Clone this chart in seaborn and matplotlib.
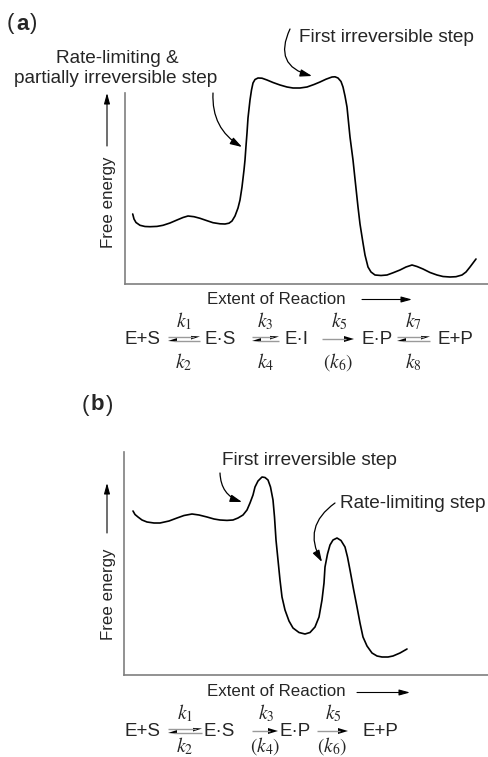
import numpy as np
import pandas as pd
import matplotlib
matplotlib.use("Agg")
import matplotlib.pyplot as plt
import seaborn as sns
from matplotlib.patches import Polygon

# ---------------- data (schematic free-energy profiles) ----------------
a_extent = [7.7, 9, 11, 15, 20, 25, 32, 38, 45, 52, 58, 63, 69, 75, 82, 88, 95, 100, 104, 107,
            110, 113, 115, 117, 119, 120, 121, 122, 123, 125, 126.5, 128, 130, 133, 137, 142,
            148, 155, 162, 168, 175, 182, 189, 195, 201, 207, 210, 213, 216, 218, 220, 222,
            223, 225, 228, 230, 233, 235, 238, 240, 243, 246, 250, 256, 262, 268, 275, 281,
            287, 292, 298, 305, 312, 318, 325, 331, 337, 341, 345, 348, 351]
a_energy = [70, 65, 61.5, 58.7, 57.5, 57.3, 57.6, 58.7, 61, 64, 66.5, 68, 67.3, 65.7, 63.3, 61.3,
            60.2, 60, 60.8, 63, 68, 76, 84, 97, 114, 124, 138, 151, 166, 184, 194, 201, 204.5,
            206, 205.8, 204, 201.5, 199, 197, 196, 196, 197, 199.5, 202, 204.8, 207, 207.2, 206,
            202.5, 197, 188, 177, 167, 147, 124, 105, 77, 60, 41, 29, 17, 12, 9, 8.5, 9, 11.2,
            14, 17, 19, 17.5, 15, 11.5, 9, 7.5, 7, 7.3, 9, 12, 17, 21, 25]

b_extent = [9, 11, 14, 18, 23, 30, 36, 45, 53, 60, 68, 75, 83, 90, 96, 103, 109, 114, 119, 123,
            126, 129, 131, 134, 138, 141, 144, 146.5, 149, 150.5, 152, 154, 156, 158, 161, 165,
            169, 175, 181, 186, 191, 195, 198, 200, 201, 203.5, 206, 209, 213, 217, 221, 223.5,
            226, 229.5, 233, 236, 239, 243, 248, 253, 258, 264, 269, 276, 283]
b_energy = [164, 160.5, 158, 155, 153, 152, 152, 154, 157, 159.5, 161, 160, 158, 156, 155, 154.6,
            155, 157, 160, 165, 172, 180, 188, 194, 198, 197.5, 195, 188, 175, 158, 135, 115, 95,
            78, 65, 54, 47, 42.5, 41, 42.5, 48, 58, 75, 92, 108, 121, 130, 135, 137, 134.5, 128,
            118, 105, 86, 68, 52, 38, 29, 22, 19, 18, 18, 19, 22, 26]

panel_labels = ["a", "b"]
y_label = "Free energy"
x_label = "Extent of Reaction"
a_notes = ["First irreversible step", "Rate-limiting &\npartially irreversible step"]
b_notes = ["First irreversible step", "Rate-limiting step"]

# ---------------- figure ----------------
sns.set_style("white")
plt.rcParams['font.family'] = ['Liberation Sans', 'DejaVu Sans']
plt.rcParams['mathtext.fontset'] = 'stix'

W, H = 488, 757
fig = plt.figure(figsize=(W / 100, H / 100), dpi=100)

def axrect(left, right, top, bottom):
    return [left / W, 1 - bottom / H, (right - left) / W, (bottom - top) / H]

spine_col = "#7f7f7f"

# Panel (a) axes
axa = fig.add_axes(axrect(125, 488, 70, 284))
sns.lineplot(x=a_extent, y=a_energy, ax=axa, sort=False, estimator=None, color="black", lw=1.2)
axa.set_xlim(0, 363)
axa.set_ylim(0, 214)
axa.spines['left'].set_bounds(0, 191)

# Panel (b) axes
axb = fig.add_axes(axrect(124, 488, 452, 675))
sns.lineplot(x=b_extent, y=b_energy, ax=axb, sort=False, estimator=None, color="black", lw=1.2)
axb.set_xlim(0, 364)
axb.set_ylim(0, 223)

for ax in (axa, axb):
    for s in ("top", "right"):
        ax.spines[s].set_visible(False)
    for s in ("left", "bottom"):
        ax.spines[s].set_color(spine_col)
        ax.spines[s].set_linewidth(1.2)
    ax.set_xticks([])
    ax.set_yticks([])
    ax.set_xlabel("")
    ax.set_ylabel("")
    ax.patch.set_alpha(0)

# overlay in pixel coordinates for text/decoration
ov = fig.add_axes([0, 0, 1, 1])
ov.set_xlim(0, W)
ov.set_ylim(H, 0)
ov.axis("off")
ov.patch.set_alpha(0)

FS = 12.2    # axis labels
NS = 13.7    # annotation notes

# panel letters
for lab, (xp, xl, xr, yc) in zip(panel_labels, [(7, 16, 30, 24), (82, 91, 106, 405)]):
    ov.text(xp, yc, "(", fontsize=16, ha="left", va="center")
    ov.text(xl, yc, lab, fontsize=16, fontweight="bold", ha="left", va="center")
    ov.text(xr, yc, ")", fontsize=16, ha="left", va="center")

def arrow(x1, y1, x2, y2, rad=0.0, lw=0.9, hl=0.7, hw=0.22, ms=10, col="black"):
    ov.annotate("", xy=(x2, y2), xytext=(x1, y1),
                arrowprops=dict(arrowstyle=f"-|>,head_length={hl},head_width={hw}",
                                connectionstyle=f"arc3,rad={rad}", color=col, lw=lw,
                                mutation_scale=ms, shrinkA=0, shrinkB=0))

# axis labels
for yc, ytop, ybot, yx, xa0, xa1 in [(202, 93, 146, 299, 362, 412), (594, 483, 533, 692, 357, 410)]:
    ov.text(108, yc, y_label, rotation=90, fontsize=FS, ha="center", va="center")
    arrow(107, ybot, 107, ytop, lw=0.8, hl=0.8, hw=0.22, ms=8)
    ov.text(276, yx, x_label, fontsize=FS, ha="center", va="center")
    arrow(xa0, yx + 0.5, xa1, yx + 0.5, lw=0.8, hl=0.8, hw=0.22, ms=8)

# annotations (a)
ov.text(386, 42, a_notes[0], fontsize=NS, ha="center", va="baseline")
arrow(290, 29, 312, 76, rad=0.6)
l1, l2 = a_notes[1].split("\n")
ov.text(117, 63, l1, fontsize=NS, ha="center", va="baseline")
ov.text(116, 83, l2, fontsize=NS, ha="center", va="baseline")
arrow(213, 93, 242, 147, rad=0.3)

# annotations (b)
ov.text(309, 465, b_notes[0], fontsize=NS, ha="center", va="baseline")
arrow(220, 473, 242, 502, rad=0.35)
ov.text(413, 508, b_notes[1], fontsize=NS, ha="center", va="baseline")
arrow(335, 503, 322, 562, rad=0.45)

# ---------------- reaction schemes ----------------
EQ = 13.5
KS = 14
grey = "#9a9a9a"

def species(x, y, s):
    ov.text(x, y, s, fontsize=EQ, ha="center", va="center")

def equil(x1, x2, y, ktop, kbot, kt_y, kb_y):
    yt, yb = y - 2.5, y + 2.0
    ov.plot([x1, x2 - 6], [yt, yt], color=grey, lw=1.0, solid_capstyle="butt")
    ov.add_patch(Polygon([[x2, yt], [x2 - 9, yt - 0.6], [x2 - 9, yt + 3.0]], closed=True, color="black", lw=0))
    ov.plot([x1 + 6, x2], [yb, yb], color=grey, lw=1.0, solid_capstyle="butt")
    ov.add_patch(Polygon([[x1, yb], [x1 + 9, yb + 0.6], [x1 + 9, yb - 3.0]], closed=True, color="black", lw=0))
    xc = (x1 + x2) / 2
    ov.text(xc, kt_y, ktop, fontsize=KS, ha="center", va="center")
    ov.text(xc, kb_y, kbot, fontsize=KS, ha="center", va="center")

def forward(x1, x2, y, ktop, kbot, kt_y, kb_y):
    ov.plot([x1, x2 - 8], [y, y], color=grey, lw=1.0, solid_capstyle="butt")
    ov.add_patch(Polygon([[x2, y], [x2 - 10, y - 3.0], [x2 - 10, y + 3.0]], closed=True, color="black", lw=0))
    xc = (x1 + x2) / 2
    ov.text(xc + 1, kt_y, ktop, fontsize=KS, ha="center", va="center")
    ov.text(xc, kb_y, kbot, fontsize=KS, ha="center", va="center")

# scheme (a)
ya, kta, kba = 339, 321, 362
species(143, ya, "E+S")
equil(168, 200, ya, r"$k_\mathit{1}$", r"$k_\mathit{2}$", kta, kba)
species(220, ya, "E\u00b7S")
equil(252, 279, ya, r"$k_\mathit{3}$", r"$k_\mathit{4}$", kta, kba)
species(296, ya, "E\u00b7I")
forward(322, 354, ya, r"$k_\mathit{5}$", r"$(k_\mathit{6})$", kta, kba)
species(377, ya, "E\u00b7P")
equil(397, 430, ya, r"$k_\mathit{7}$", r"$k_\mathit{8}$", kta, kba)
species(455, ya, "E+P")

# scheme (b)
yb, ktb, kbb = 731, 713, 746
species(143, yb, "E+S")
equil(168, 202, yb, r"$k_\mathit{1}$", r"$k_\mathit{2}$", ktb, kbb)
species(219, yb, "E\u00b7S")
forward(252, 278, yb, r"$k_\mathit{3}$", r"$(k_\mathit{4})$", ktb, kbb)
species(295, yb, "E\u00b7P")
forward(317, 348, yb, r"$k_\mathit{5}$", r"$(k_\mathit{6})$", ktb, kbb)
species(380, yb, "E+P")

fig.savefig("out.png", dpi=100)
